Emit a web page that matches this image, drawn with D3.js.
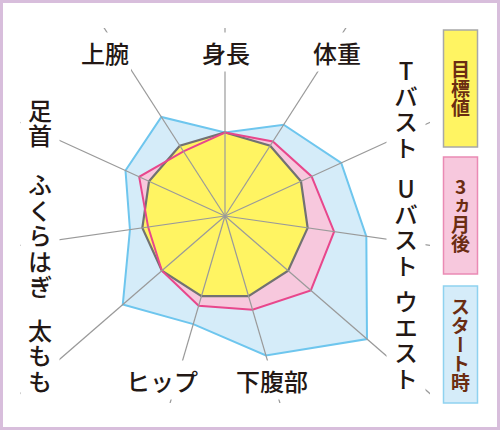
<!DOCTYPE html>
<html>
<head>
<meta charset="utf-8">
<script src="https://cdn.jsdelivr.net/npm/d3@7"></script>
<style>
  body { margin: 0; background: #fff; }
  svg { display: block; }
  .lbl { font-family: "Noto Sans CJK JP", sans-serif; font-weight: 500; fill: #231815; }
  .vert { writing-mode: vertical-rl; text-orientation: upright; }
  .leg { font-family: "Noto Sans CJK JP", sans-serif; font-weight: 700; fill: #6b2d12; }
</style>
</head>
<body>
<svg id="chart" width="501" height="430"></svg>
<script>
// axes, clockwise from the top
var axisNames = ["身長", "体重", "Tバスト", "Uバスト", "ウエスト", "下腹部", "ヒップ", "太もも", "ふくらはぎ", "足首", "上腕"];
// target = 100 on every axis
var targetVals = [100, 100, 100, 100, 100, 100, 100, 100, 100, 100, 100];
var after3Vals = [100, 106, 114, 132, 136, 117, 112, 100, 93, 113, 92];
var startVals  = [100, 130, 153, 171, 225, 174, 135, 162, 115, 131, 141];
var legendNames = ["目標値", "3ヵ月後", "スタート時"];

var width = 501, height = 430;
var cx = 225, cy = 216;
var svg = d3.select("#chart");

// frame
svg.append("rect")
    .attr("x", 1.5).attr("y", 1.5)
    .attr("width", 497).attr("height", 427)
    .attr("fill", "#fff")
    .attr("stroke", "#d8bedc")
    .attr("stroke-width", 3);

var r = d3.scaleLinear().domain([0, 100]).range([0, 83.5]);
var angle = d3.scaleLinear().domain([0, axisNames.length]).range([0, 2 * Math.PI]);

var radar = d3.lineRadial()
    .angle(function(d, i) { return angle(i); })
    .radius(function(d) { return r(d); })
    .curve(d3.curveLinearClosed);

var defs = svg.append("defs");
defs.append("clipPath").attr("id", "axclip")
  .append("rect")
    .attr("x", 20).attr("y", 28)
    .attr("width", 410).attr("height", 375);

var g = svg.append("g").attr("transform", "translate(" + cx + "," + cy + ")");

// start (back)
g.append("path")
    .attr("d", radar(startVals))
    .attr("fill", "#d5ecf9")
    .attr("stroke", "#6ec6ee")
    .attr("stroke-width", 2);

g.append("path")
    .attr("d", radar(after3Vals))
    .attr("fill", "#f7c8dd");

g.append("path")
    .attr("d", radar(targetVals))
    .attr("fill", "#fff462");

// spokes, clipped to the drawing box
var spokes = svg.append("g").attr("clip-path", "url(#axclip)")
  .append("g").attr("transform", "translate(" + cx + "," + cy + ")");
spokes.selectAll("line")
  .data(axisNames)
  .enter().append("line")
    .attr("x1", 0).attr("y1", 0)
    .attr("x2", function(d, i) { return 400 * Math.sin(angle(i)); })
    .attr("y2", function(d, i) { return -400 * Math.cos(angle(i)); })
    .attr("stroke", "#9a9a9a")
    .attr("stroke-width", 1.2);

g.append("path")
    .attr("d", radar(targetVals))
    .attr("fill", "none")
    .attr("stroke", "#727272")
    .attr("stroke-width", 2.2);

g.append("path")
    .attr("d", radar(after3Vals))
    .attr("fill", "none")
    .attr("stroke", "#e8478c")
    .attr("stroke-width", 2);

// axis labels (horizontal ones and vertical columns)
var labelPos = [
  {x: 226, y: 52, v: false},
  {x: 337, y: 52, v: false},
  {x: 406, y: 110, v: true},
  {x: 406, y: 228, v: true},
  {x: 406, y: 341, v: true},
  {x: 272, y: 380, v: false},
  {x: 162, y: 380, v: false},
  {x: 40, y: 357, v: true},
  {x: 40, y: 237, v: true},
  {x: 40, y: 124, v: true},
  {x: 105, y: 52, v: false}
];

var labels = svg.append("g");
axisNames.forEach(function(name, i) {
  var p = labelPos[i];
  var t = labels.append("text")
      .attr("class", "lbl" + (p.v ? " vert" : ""))
      .attr("x", p.x).attr("y", p.y)
      .attr("font-size", 24)
      .attr("text-anchor", "middle")
      .attr("dominant-baseline", "central")
      .style("letter-spacing", p.v ? "1.5px" : "0px")
      .text(name);
  var b = t.node().getBBox();
  labels.insert("rect", "text")
      .attr("x", b.x - 2).attr("y", b.y - 2)
      .attr("width", b.width + 4).attr("height", b.height + 4)
      .attr("fill", "#fff");
});

// legend boxes
var legFill = ["#fff462", "#f7c8dd", "#d5ecf9"];
var legStroke = ["#a8a8a8", "#ea8ab4", "#8fd2f0"];
var legY = [30, 157, 286];
var legH = [117, 117, 117];
var legend = svg.append("g");
legendNames.forEach(function(name, i) {
  legend.append("rect")
      .attr("x", 443.5).attr("y", legY[i])
      .attr("width", 34).attr("height", legH[i])
      .attr("fill", legFill[i])
      .attr("stroke", legStroke[i])
      .attr("stroke-width", 1.5);
  legend.append("text")
      .attr("class", "leg vert")
      .attr("x", 460.5).attr("y", legY[i] + legH[i] / 2)
      .attr("font-size", 19)
      .attr("text-anchor", "middle")
      .attr("dominant-baseline", "central")
      .text(name);
});
</script>
</body>
</html>
